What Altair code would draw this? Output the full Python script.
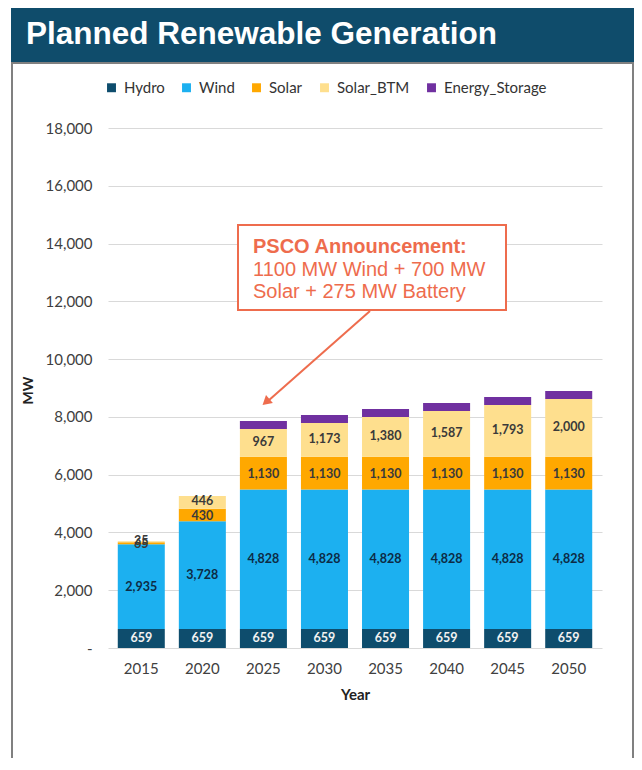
import altair as alt
import pandas as pd

# ---- data ----
years = ["2015", "2020", "2025", "2030", "2035", "2040", "2045", "2050"]
hydro = [659, 659, 659, 659, 659, 659, 659, 659]
wind = [2935, 3728, 4828, 4828, 4828, 4828, 4828, 4828]
solar = [65, 430, 1130, 1130, 1130, 1130, 1130, 1130]
solar_btm = [35, 446, 967, 1173, 1380, 1587, 1793, 2000]
energy_storage = [0, 0, 275, 275, 275, 275, 275, 275]

series = ["Hydro", "Wind", "Solar", "Solar_BTM", "Energy_Storage"]
colors = ["#0e4d6d", "#1cb0f0", "#ffa800", "#fedf8e", "#7030a0"]

title_text = ["Planned Renewable Generation"]
note_head = ["PSCO Announcement:"]
note_lines = ["1100 MW Wind + 700 MW", "Solar + 275 MW Battery"]

# ---- long table ----
rows = []
for i, y in enumerate(years):
    for k, (s, vals) in enumerate(zip(series, [hydro, wind, solar, solar_btm, energy_storage])):
        rows.append({"year": y, "series": s, "order": k, "value": vals[i]})
df = pd.DataFrame(rows)

W, H = 494, 520
FONT = "Lato"

base = alt.Chart(df).transform_stack(
    stack="value",
    groupby=["year"],
    sort=[alt.SortField("order", order="ascending")],
    as_=["y0", "y1"],
).transform_calculate(mid="(datum.y0 + datum.y1) / 2")

xenc = alt.X(
    "year:N",
    sort=years,
    scale=alt.Scale(paddingInner=0.23, paddingOuter=0.16),
    axis=alt.Axis(
        labelAngle=0, domain=False, ticks=False, labelFont=FONT, labelFontSize=15,
        labelColor="#404040", labelPadding=13, title="Year", titleFont=FONT,
        titleFontSize=15, titleFontWeight="bold", titleColor="#222222", titlePadding=11,
    ),
)

bars = base.mark_bar().encode(
    x=xenc,
    y=alt.Y(
        "y0:Q",
        scale=alt.Scale(domain=[0, 18000], nice=False),
        axis=alt.Axis(
            values=list(range(0, 18001, 2000)),
            labelExpr="datum.value == 0 ? '-' : format(datum.value, ',')",
            grid=True, gridColor="#d9d9d9", domain=False, ticks=False,
            labelFont=FONT, labelFontSize=15, labelColor="#404040", labelPadding=16,
            title="MW", titleFont=FONT, titleFontSize=14, titleFontWeight="bold",
            titleColor="#222222", titleX=-80, titleY=262, titleAlign="center",
            titleBaseline="middle", titleAngle=270,
        ),
    ),
    y2="y1:Q",
    color=alt.Color(
        "series:N",
        scale=alt.Scale(domain=series, range=colors),
        legend=alt.Legend(
            title=None, orient="none", legendX=-4, legendY=-48, direction="horizontal",
            columns=5, symbolType="square", symbolSize=80, symbolStrokeWidth=0,
            labelFont=FONT, labelFontSize=15, labelColor="#333333", columnPadding=14,
            labelOffset=5, padding=0,
        ),
    ),
)

labels = base.transform_filter("datum.series != 'Energy_Storage'").transform_calculate(
    lc="datum.series == 'Hydro' ? '#f2f2f2' : (datum.series == 'Wind' ? '#0d2b45' : '#3a3a3a')",
    ly="datum.mid + (datum.series == 'Solar_BTM' ? 40 : (datum.series == 'Solar' ? -40 : 0))",
).mark_text(font=FONT, fontSize=12.5, fontWeight="bold", baseline="middle").encode(
    x=alt.X("year:N", sort=years),
    y=alt.Y("ly:Q"),
    text=alt.Text("value:Q", format=","),
    color=alt.Color("lc:N", scale=None),
)

# ---- decorations ----
tdf = pd.DataFrame({"t": title_text})
frame = alt.Chart(tdf).mark_rect(fillOpacity=0, stroke="#808080", strokeWidth=2).encode(
    x=alt.value(-96), x2=alt.value(525), y=alt.value(-65), y2=alt.value(720)
)
title_bar = alt.Chart(tdf).mark_rect(color="#0f4c6b").encode(
    x=alt.value(-97), x2=alt.value(540), y=alt.value(-120), y2=alt.value(-66)
)
title_txt = alt.Chart(tdf).mark_text(
    align="left", baseline="middle", font="Liberation Sans", fontSize=31.5,
    fontWeight="bold", color="white",
).encode(x=alt.value(-82), y=alt.value(-93), text="t:N")

note_box = alt.Chart(tdf).mark_rect(fill="white", stroke="#ee6c4d", strokeWidth=2).encode(
    x=alt.value(130), x2=alt.value(398), y=alt.value(97), y2=alt.value(182)
)
hdf = pd.DataFrame({"line": note_head})
note_head_txt = alt.Chart(hdf).mark_text(
    align="left", baseline="middle", font="Liberation Sans", fontSize=20,
    fontWeight="bold", color="#ee6c4d",
).encode(x=alt.value(145), y=alt.value(119), text="line:N")
ndf = pd.DataFrame({"line": note_lines, "i": [1, 2]})
note_txt = alt.Chart(ndf).transform_calculate(py="119 + datum.i * 22.5").mark_text(
    align="left", baseline="middle", font="Liberation Sans", fontSize=20, color="#ee6c4d",
).encode(
    x=alt.value(145),
    y=alt.Y("py:Q", scale=None),
    text="line:N",
)
arrow_line = alt.Chart(tdf).mark_rule(color="#ee6c4d", strokeWidth=2).encode(
    x=alt.value(262), y=alt.value(183), x2=alt.value(160), y2=alt.value(273)
)
arrow_head = alt.Chart(tdf).mark_point(
    shape="triangle-up", filled=True, color="#ee6c4d", size=110, angle=229, opacity=1
).encode(x=alt.value(158), y=alt.value(274))

chart = alt.layer(
    frame, title_bar, title_txt, bars, labels, note_box, note_head_txt, note_txt,
    arrow_line, arrow_head,
).properties(
    width=W, height=H,
    padding={"left": 100, "top": 120, "right": 32, "bottom": 110},
    autosize=alt.AutoSizeParams(type="none"),
    background="white",
).configure_view(strokeWidth=0)

chart.save("out.html", embed_options={"renderer": "svg", "actions": False})
